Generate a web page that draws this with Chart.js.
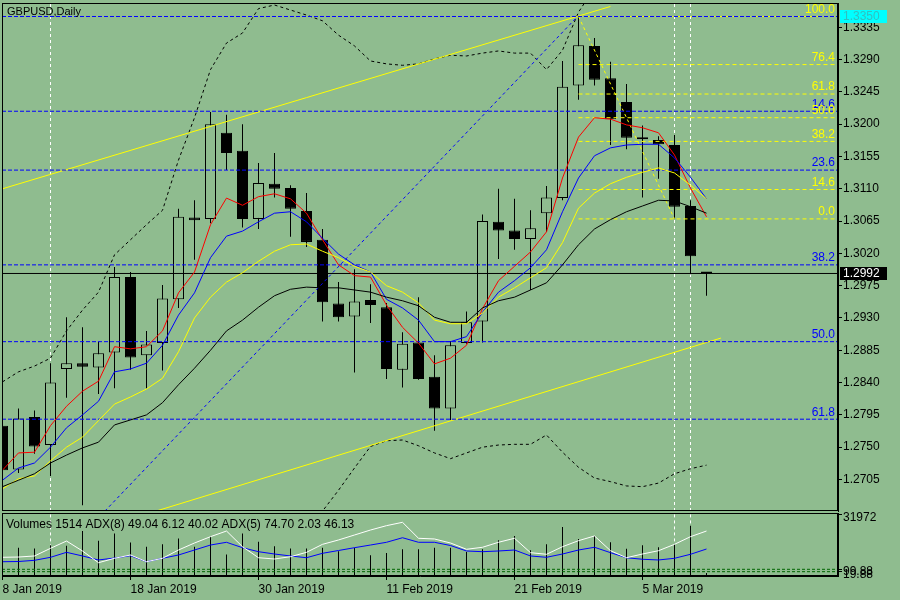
<!DOCTYPE html>
<html><head><meta charset="utf-8">
<script src="https://cdn.jsdelivr.net/npm/chart.js@4.4.1/dist/chart.umd.min.js"></script>
<style>
html,body{margin:0;padding:0;background:#8fbc8f;}
#wrap{position:relative;width:900px;height:600px;overflow:hidden;background:#8fbc8f;}
#c1{position:absolute;left:0;top:0;}
#c2{position:absolute;left:0;top:512px;}
</style></head><body>
<div id="wrap">
<canvas id="c1" width="900" height="512"></canvas>
<canvas id="c2" width="900" height="88"></canvas>
</div>
<script>
// ---------------- DATA ----------------
const dates = ['8 Jan 2019','9 Jan 2019','10 Jan 2019','11 Jan 2019','14 Jan 2019','15 Jan 2019','16 Jan 2019','17 Jan 2019','18 Jan 2019',
 '21 Jan 2019','22 Jan 2019','23 Jan 2019','24 Jan 2019','25 Jan 2019','28 Jan 2019','29 Jan 2019','30 Jan 2019','31 Jan 2019',
 '1 Feb 2019','4 Feb 2019','5 Feb 2019','6 Feb 2019','7 Feb 2019','8 Feb 2019','11 Feb 2019','12 Feb 2019','13 Feb 2019','14 Feb 2019',
 '15 Feb 2019','18 Feb 2019','19 Feb 2019','20 Feb 2019','21 Feb 2019','22 Feb 2019','25 Feb 2019','26 Feb 2019','27 Feb 2019','28 Feb 2019',
 '1 Mar 2019','4 Mar 2019','5 Mar 2019','6 Mar 2019','7 Mar 2019','8 Mar 2019','11 Mar 2019'];
const opens  = [1.2780,1.2719,1.2792,1.2753,1.2859,1.2867,1.2861,1.2882,1.2987,1.2878,1.2895,1.2956,1.3070,1.3068,1.3188,1.3163,1.3068,1.3117,1.3111,1.3079,1.3039,1.2950,1.2932,1.2955,1.2945,1.2858,1.2896,1.2848,1.2804,1.2895,1.2925,1.3064,1.3052,1.3040,1.3076,1.3097,1.3254,1.3309,1.3264,1.3231,1.3181,1.3178,1.3171,1.3086,1.2993];
const highs  = [1.2788,1.2804,1.2801,1.2867,1.2931,1.2917,1.2897,1.3001,1.2994,1.2912,1.2976,1.3082,1.3094,1.3217,1.3213,1.3200,1.3146,1.3160,1.3115,1.3104,1.3054,1.2980,1.2998,1.2977,1.2951,1.2910,1.2959,1.2878,1.2898,1.2939,1.3074,1.3110,1.3096,1.3080,1.3114,1.3288,1.3350,1.3320,1.3287,1.3256,1.3198,1.3183,1.3185,1.3094,1.2994];
const lows   = [1.2711,1.2714,1.2741,1.2710,1.2819,1.2669,1.2824,1.2832,1.2858,1.2832,1.2857,1.2944,1.3011,1.3062,1.3136,1.3056,1.3054,1.3098,1.3043,1.3029,1.2925,1.2925,1.2854,1.2923,1.2845,1.2833,1.2844,1.2773,1.2788,1.2894,1.2896,1.3012,1.3025,1.2969,1.3050,1.3094,1.3234,1.3254,1.3171,1.3165,1.3098,1.3124,1.3068,1.2991,1.2961];
const closes = [1.2718,1.2790,1.2751,1.2840,1.2867,1.2862,1.2881,1.2987,1.2875,1.2893,1.2957,1.3071,1.3066,1.3200,1.3160,1.3068,1.3118,1.3110,1.3082,1.3036,1.2952,1.2931,1.2953,1.2948,1.2859,1.2894,1.2845,1.2804,1.2892,1.2924,1.3065,1.3052,1.3040,1.3055,1.3098,1.3252,1.3310,1.3262,1.3207,1.3181,1.3179,1.3172,1.3085,1.3016,1.2992];

const maRed    = [1.2718,1.2742,1.2743,1.2780,1.2807,1.2828,1.2842,1.2890,1.2887,1.2890,1.2912,1.2965,1.2994,1.3060,1.3097,1.3087,1.3099,1.3103,1.3096,1.3076,1.3039,1.3004,1.2989,1.2987,1.2948,1.2917,1.2895,1.2866,1.2874,1.2892,1.2943,1.2982,1.3002,1.3022,1.3050,1.3125,1.3182,1.3209,1.3207,1.3199,1.3195,1.3188,1.3157,1.3111,1.3071];
const maBlue   = [1.2704,1.2721,1.2728,1.2750,1.2777,1.2795,1.2814,1.2855,1.2859,1.2867,1.2892,1.2934,1.2965,1.3014,1.3044,1.3051,1.3064,1.3076,1.3078,1.3064,1.3041,1.3019,1.3004,1.2994,1.2956,1.2944,1.2927,1.2897,1.2897,1.2904,1.2938,1.2966,1.2982,1.3000,1.3025,1.3078,1.3125,1.3156,1.3167,1.3171,1.3172,1.3172,1.3153,1.3126,1.3096];
const maYellow = [1.2692,1.2706,1.2710,1.2731,1.2750,1.2764,1.2787,1.2810,1.2820,1.2831,1.2846,1.2883,1.2930,1.2959,1.2980,1.2993,1.3009,1.3023,1.3032,1.3033,1.3023,1.3014,1.3002,1.2994,1.2975,1.2966,1.2951,1.2927,1.2922,1.2922,1.2937,1.2959,1.2972,1.2986,1.3000,1.3035,1.3083,1.3104,1.3117,1.3126,1.3133,1.3139,1.3132,1.3115,1.3096];
const maBlack  = [1.2695,1.2704,1.2713,1.2728,1.2739,1.2749,1.2757,1.2781,1.2788,1.2795,1.2812,1.2837,1.2860,1.2885,1.2912,1.2927,1.2945,1.2961,1.2970,1.2973,1.2972,1.2972,1.2969,1.2966,1.2959,1.2954,1.2947,1.2931,1.2924,1.2924,1.2944,1.2954,1.2959,1.2969,1.2979,1.3004,1.3032,1.3054,1.3067,1.3078,1.3086,1.3094,1.3093,1.3085,1.3076];
const bbUpper  = [1.2841,1.2855,1.2863,1.2874,1.2912,1.2941,1.2966,1.3018,1.3039,1.3060,1.3080,1.3150,1.3209,1.3276,1.3313,1.3327,1.3361,1.3366,1.3359,1.3352,1.3344,1.3324,1.3309,1.3288,1.3284,1.3282,1.3284,1.3291,1.3296,1.3295,1.3299,1.3302,1.3299,1.3299,1.3276,1.3303,1.3356,1.3390,null,null,null,null,null,null,null];
const bbLower  = [null,null,null,null,null,null,null,null,null,null,null,null,null,null,null,null,null,null,null,1.2630,1.2661,1.2690,1.2721,1.2751,1.2759,1.2760,1.2752,1.2742,1.2734,1.2742,1.2750,1.2753,1.2754,1.2754,1.2767,1.2743,1.2722,1.2707,1.2702,1.2696,1.2695,1.2700,1.2713,1.2720,1.2725];

const volumes = [14590,14750,14430,16170,15800,23540,18440,22330,17590,15270,16700,19700,15270,20540,11270,22330,17910,15640,14430,14430,14750,13010,14750,10900,12110,14060,14060,14750,14750,12640,14060,18800,20910,13540,16700,25650,19330,20910,17750,14220,16170,15120,16700,26340,1514];
const adx5 = [37.2,37.6,39.1,50.0,60.4,46.2,29.5,35.8,40.5,30.9,35.8,47.6,57.6,66.6,74.7,52.3,36.6,34.8,38.1,44.3,55.7,61.9,69.0,76.1,82.3,87.1,64.3,63.3,57.6,48.6,51.5,58.6,64.3,43.8,41.5,52.3,60.9,67.6,46.6,36.6,41.9,46.6,55.7,66.6,74.70];
const adx8 = [30.9,31.2,32.9,37.2,44.3,39.1,33.4,36.2,39.5,30.9,35.8,40.5,47.6,54.7,58.6,50.9,45.2,41.9,39.1,36.6,42.9,46.9,50.9,54.7,58.6,65.1,58.6,58.6,54.0,46.2,45.2,46.2,47.6,39.1,37.2,41.9,47.6,51.5,43.8,36.6,34.4,33.4,35.8,41.5,49.04];
const adxLevels = [20.1, 16.7];

const priceTicks = [1.2705,1.2750,1.2795,1.2840,1.2885,1.2930,1.2975,1.3020,1.3065,1.3110,1.3155,1.3200,1.3245,1.3290,1.3335];
const dateTickIdx = [0,8,16,24,32,40];
const panelTickValues = [31972, 3668, 2253];
const panelTickLabels = ['31972','99.88','19.88'];

const yellowFibPrices = [1.3068,1.3109,1.3176,1.3209,1.3242,1.3283,1.3350];
const yellowFibLabels = ['0.0','14.6','38.2','50.0','61.8','76.4','100.0'];
const yellowFibStart = 36;
const blueFibPrices = [1.3350,1.3218,1.3136,1.3004,1.2897,1.2789];
const blueFibLabels = ['','14.6','23.6','38.2','50.0','61.8'];

const upperChannel = [[0,1.3110],[38,1.3364]];
const lowerChannel = [[9.6,1.2661],[44.9,1.2902]];
const blueTrend = [[6.4,1.2661],[35.94,1.3350]];
const yellowTrend = [[36,1.3350],[42,1.3068]];
const separators = [3,42,43];

const highPrice = 1.3350;
const lastPrice = 1.2992;
const chartTitle = 'GBPUSD,Daily';
const panelInfo = 'Volumes 1514 ADX(8) 49.04 6.12 40.02 ADX(5) 74.70 2.03 46.13';

// ---------------- CONFIG ----------------
const BG = '#8fbc8f';
const FONT = '"Liberation Sans", Arial, sans-serif';
const XMIN = -0.03125, XMAX = 52.21875;
const YMIN = 1.26611, YMAX = 1.33688;
Chart.defaults.font.family = FONT;
Chart.defaults.font.size = 12;

const noPad = (s) => { s.paddingTop = 0; s.paddingBottom = 0; s.paddingLeft = 0; s.paddingRight = 0; };
const idx = dates.map((_, i) => i);
const seg = (pts) => pts.map(p => ({x: p[0], y: p[1]}));
const lineDs = (data, color, extra) => Object.assign({
  type: 'line', data, borderColor: color, borderWidth: 1, pointRadius: 0, tension: 0, fill: false, order: 1
}, extra || {});

const mainDatasets = [];
separators.forEach(s => mainDatasets.push(lineDs([{x:s,y:YMIN},{x:s,y:YMAX}], '#ffffff', {borderDash:[3,3], order: 30})));
mainDatasets.push({
  type: 'bar', data: idx.map(i => ({x: i, y: [lows[i], highs[i]]})),
  backgroundColor: '#000', borderWidth: 0, barThickness: 1, grouped: false, inflateAmount: 0, order: 21
});
mainDatasets.push({
  type: 'bar', data: idx.map(i => ({x: i, y: [opens[i], closes[i]]})),
  backgroundColor: idx.map(i => closes[i] >= opens[i] ? BG : '#000'),
  borderColor: '#000', borderWidth: 1, borderSkipped: false, barThickness: 11, minBarLength: 2,
  grouped: false, inflateAmount: 0, order: 20
});
blueFibPrices.forEach(p => mainDatasets.push(lineDs([{x:XMIN,y:p},{x:XMAX,y:p}], '#0000ff', {borderDash:[4,2]})));
yellowFibPrices.forEach(p => mainDatasets.push(lineDs([{x:yellowFibStart,y:p},{x:XMAX,y:p}], '#ffff00', {borderDash:[4,3]})));
mainDatasets.push(lineDs(seg(upperChannel), '#ffff00'));
mainDatasets.push(lineDs(seg(lowerChannel), '#ffff00'));
mainDatasets.push(lineDs(seg(blueTrend), '#0000ff', {borderDash:[3,3]}));
mainDatasets.push(lineDs(seg(yellowTrend), '#ffff00', {borderDash:[3,3]}));
mainDatasets.push(lineDs([{x:XMIN,y:lastPrice},{x:XMAX,y:lastPrice}], '#000000'));
mainDatasets.push(lineDs(idx.map(i => ({x:i, y:bbUpper[i]})), '#000', {borderDash:[3,3]}));
mainDatasets.push(lineDs(idx.map(i => ({x:i, y:bbLower[i]})), '#000', {borderDash:[3,3]}));
mainDatasets.push(lineDs(idx.map(i => ({x:i, y:maBlack[i]})), '#000000', {order:0}));
mainDatasets.push(lineDs(idx.map(i => ({x:i, y:maYellow[i]})), '#ffff00', {order:0}));
mainDatasets.push(lineDs(idx.map(i => ({x:i, y:maBlue[i]})), '#0000ff', {order:0}));
mainDatasets.push(lineDs(idx.map(i => ({x:i, y:maRed[i]})), '#ff0000', {order:0}));

function priceBox(ctx, a, y, p, bg, fg) {
  const py = y.getPixelForValue(p);
  ctx.fillStyle = bg;
  ctx.fillRect(a.right + 2, Math.round(py) - 6, 47, 13);
  ctx.fillStyle = fg;
  ctx.textAlign = 'left'; ctx.textBaseline = 'middle';
  ctx.fillText(p.toFixed(4), a.right + 5, Math.round(py) + 0.5);
}

const mainDecor = {
  id: 'mainDecor',
  beforeDraw(chart) {
    const c = chart.ctx; c.save(); c.fillStyle = BG; c.fillRect(0, 0, chart.width, chart.height); c.restore();
  },
  afterDraw(chart) {
    const {ctx, chartArea: a, scales: {y}} = chart;
    ctx.save();
    ctx.strokeStyle = '#000'; ctx.lineWidth = 1;
    ctx.strokeRect(a.left + 0.5, a.top + 0.5, a.right - a.left - 1, a.bottom - a.top - 1);
    ctx.font = '12px ' + FONT;
    ctx.textAlign = 'right'; ctx.textBaseline = 'bottom';
    ctx.fillStyle = '#0000ff';
    blueFibPrices.forEach((p, k) => { if (blueFibLabels[k]) ctx.fillText(blueFibLabels[k], a.right - 3, y.getPixelForValue(p) - 1); });
    ctx.fillStyle = '#ffff00';
    yellowFibPrices.forEach((p, k) => ctx.fillText(yellowFibLabels[k], a.right - 3, y.getPixelForValue(p) - 1));
    ctx.fillStyle = '#000'; ctx.textAlign = 'left'; ctx.textBaseline = 'middle';
    ctx.font = '11px ' + FONT;
    ctx.fillText(chartTitle, 7, 12);
    ctx.font = '12px ' + FONT;
    priceBox(ctx, a, y, highPrice, '#00ffff', '#30c0c0');
    priceBox(ctx, a, y, lastPrice, '#000000', '#ffffff');
    ctx.restore();
  }
};

new Chart(document.getElementById('c1'), {
  type: 'bar',
  data: { datasets: mainDatasets },
  options: {
    responsive: false, animation: false,
    layout: { padding: { left: 2, top: 3, bottom: 1, right: 0 } },
    plugins: { legend: { display: false }, tooltip: { enabled: false } },
    scales: {
      x: { type: 'linear', min: XMIN, max: XMAX, display: false, offset: false, grid: { display: false } },
      y: {
        position: 'right', min: YMIN, max: YMAX,
        afterFit(s) { s.width = 62; noPad(s); },
        afterBuildTicks(s) { s.ticks = priceTicks.map(v => ({ value: v })); },
        ticks: { callback: v => Number(v).toFixed(4), color: '#000', padding: 1, font: { size: 12 } },
        grid: { drawOnChartArea: false, drawTicks: true, tickLength: 4, color: '#000', tickColor: '#000' },
        border: { display: true, color: '#000' }
      }
    }
  },
  plugins: [mainDecor]
});

// ---------------- PANEL ----------------
const panelDatasets = [];
separators.forEach(s => panelDatasets.push(lineDs([{x:s,y:0},{x:s,y:200}], '#ffffff', {borderDash:[3,3], yAxisID:'ya', order: 30})));
panelDatasets.push({
  type: 'bar', data: idx.map(i => ({x: i, y: volumes[i]})), yAxisID: 'yv',
  backgroundColor: '#000', borderWidth: 0, barThickness: 1, grouped: false, inflateAmount: 0, order: 20
});
adxLevels.forEach(v => panelDatasets.push(lineDs([{x:XMIN,y:v},{x:XMAX,y:v}], '#006400', {borderDash:[3,2], yAxisID:'ya'})));
panelDatasets.push(lineDs(idx.map(i => ({x:i, y:adx5[i]})), '#ffffff', {yAxisID:'ya', order:0}));
panelDatasets.push(lineDs(idx.map(i => ({x:i, y:adx8[i]})), '#0000ff', {yAxisID:'ya', order:0}));

const panelDecor = {
  id: 'panelDecor',
  beforeDraw(chart) {
    const c = chart.ctx; c.save(); c.fillStyle = BG; c.fillRect(0, 0, chart.width, chart.height); c.restore();
  },
  afterDraw(chart) {
    const {ctx, chartArea: a} = chart;
    ctx.save();
    ctx.strokeStyle = '#000'; ctx.lineWidth = 1;
    ctx.strokeRect(a.left + 0.5, a.top + 0.5, a.right - a.left - 1, a.bottom - a.top - 1);
    ctx.fillStyle = '#000'; ctx.font = '12px ' + FONT;
    ctx.textAlign = 'left'; ctx.textBaseline = 'middle';
    ctx.fillText(panelInfo, 6, a.top + 12);
    ctx.restore();
  }
};

new Chart(document.getElementById('c2'), {
  type: 'bar',
  data: { datasets: panelDatasets },
  options: {
    responsive: false, animation: false,
    layout: { padding: { left: 2, top: 1, bottom: 0, right: 0 } },
    plugins: { legend: { display: false }, tooltip: { enabled: false } },
    scales: {
      x: {
        type: 'linear', min: XMIN, max: XMAX, offset: false, position: 'bottom',
        afterFit(s) { s.height = 24; noPad(s); },
        afterBuildTicks(s) { s.ticks = dateTickIdx.map(v => ({ value: v })); },
        ticks: { callback: v => dates[v] || '', align: 'start', maxRotation: 0, autoSkip: false, color: '#000', padding: 2, font: { size: 12 } },
        grid: { drawOnChartArea: false, drawTicks: true, tickLength: 4, color: '#000', tickColor: '#000', offset: false },
        border: { display: true, color: '#000' }
      },
      yv: {
        position: 'right', min: 0, max: 33020,
        afterFit(s) { s.width = 62; noPad(s); },
        afterBuildTicks(s) { s.ticks = panelTickValues.map(v => ({ value: v })); },
        ticks: { callback: (v, k) => panelTickLabels[k], color: '#000', padding: 1, labelOffset: 3, font: { size: 12 } },
        grid: { drawOnChartArea: false, drawTicks: true, tickLength: 4, color: '#000', tickColor: '#000' },
        border: { display: true, color: '#000' }
      },
      ya: { display: false, min: 10.55, max: 100.36 }
    }
  },
  plugins: [panelDecor]
});
</script>
</body></html>
